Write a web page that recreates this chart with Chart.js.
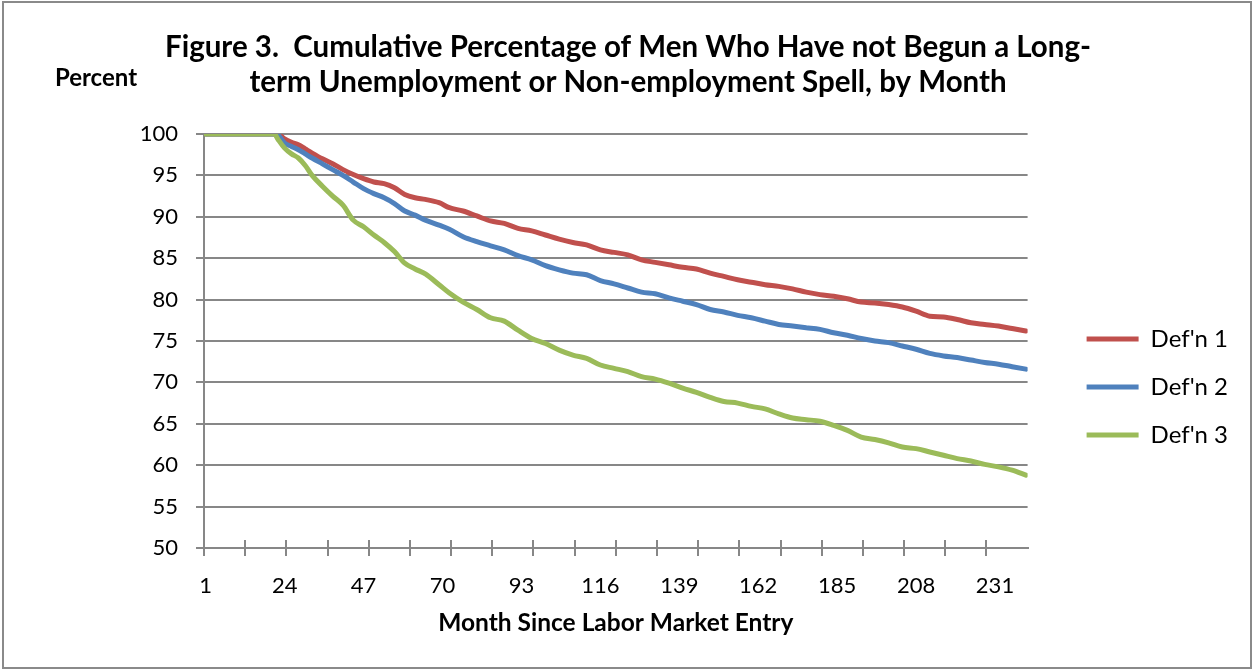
<!DOCTYPE html>
<html>
<head>
<meta charset="utf-8">
<script src="https://cdn.jsdelivr.net/npm/chart.js@4.4.1/dist/chart.umd.min.js"></script>
<style>
  body { margin: 0; background: #fff; }
  #frame { position: absolute; left: 2px; top: 1px; width: 1250px; height: 668px; box-sizing: border-box; border: 2px solid #8a8a8a; pointer-events: none; }
  #chart { position: absolute; left: 0; top: 0; }
</style>
</head>
<body>
<canvas id="chart" width="1254" height="672"></canvas>
<div id="frame"></div>
<script>
// months (x positions of the samples)
const months = [1, 12, 21, 22, 24, 26, 28, 30, 32, 35, 38, 41, 44, 47, 50, 53, 56, 59, 62, 65, 69, 72,
  76, 80, 84, 88, 92, 96, 100, 104, 108, 112, 116, 120, 124, 128, 132, 136, 140, 144, 148, 152, 156, 160,
  164, 168, 172, 176, 180, 184, 188, 192, 196, 200, 204, 208, 212, 216, 220, 224, 228, 232, 236, 240];

const defn1 = [100, 100, 100, 100, 99.4, 99.0, 98.7, 98.2, 97.7, 97.0, 96.4, 95.7, 95.1, 94.6, 94.2, 94.0, 93.5, 92.7, 92.3, 92.1, 91.7, 91.1,
  90.7, 90.1, 89.5, 89.2, 88.6, 88.3, 87.8, 87.3, 86.9, 86.6, 86.0, 85.7, 85.4, 84.8, 84.5, 84.2, 83.9, 83.7, 83.2, 82.8, 82.4, 82.1,
  81.8, 81.6, 81.3, 80.9, 80.6, 80.4, 80.1, 79.7, 79.6, 79.4, 79.1, 78.6, 78.0, 77.9, 77.6, 77.2, 77.0, 76.8, 76.5, 76.2];

const defn2 = [100, 100, 100, 99.9, 98.9, 98.5, 98.1, 97.6, 97.1, 96.4, 95.7, 95.0, 94.2, 93.4, 92.8, 92.3, 91.6, 90.7, 90.2, 89.6, 89.0, 88.5,
  87.6, 87.0, 86.5, 86.0, 85.3, 84.8, 84.1, 83.6, 83.2, 83.0, 82.3, 81.9, 81.4, 80.9, 80.7, 80.2, 79.8, 79.4, 78.8, 78.5, 78.1, 77.8,
  77.4, 77.0, 76.8, 76.6, 76.4, 76.0, 75.7, 75.3, 75.0, 74.8, 74.4, 74.0, 73.5, 73.2, 73.0, 72.7, 72.4, 72.2, 71.9, 71.6];

const defn3 = [100, 100, 100, 99.4, 98.3, 97.6, 97.1, 96.2, 95.0, 93.7, 92.5, 91.4, 89.6, 88.8, 87.8, 86.9, 85.8, 84.4, 83.7, 83.1, 81.8, 80.8,
  79.7, 78.8, 77.8, 77.4, 76.3, 75.3, 74.7, 73.9, 73.3, 72.9, 72.1, 71.7, 71.3, 70.7, 70.4, 69.9, 69.3, 68.8, 68.2, 67.7, 67.5, 67.1,
  66.8, 66.2, 65.7, 65.5, 65.3, 64.8, 64.2, 63.4, 63.1, 62.7, 62.2, 62.0, 61.6, 61.2, 60.8, 60.5, 60.1, 59.8, 59.4, 58.8];

const seriesNames = ["Def'n 1", "Def'n 2", "Def'n 3"];
const seriesColors = ['#C0504D', '#4F81BD', '#9BBB59'];

// axis labels every 23 months, tick marks every 12 months (between categories)
const monthLabels = [1, 24, 47, 70, 93, 116, 139, 162, 185, 208, 231];
const tickMarks = [0.5, 12.5, 24.5, 36.5, 48.5, 60.5, 72.5, 84.5, 96.5, 108.5, 120.5, 132.5, 144.5, 156.5, 168.5, 180.5, 192.5, 204.5, 216.5, 228.5];
const yTicks = [50, 55, 60, 65, 70, 75, 80, 85, 90, 95, 100];

const titleLines = ['Figure 3.  Cumulative Percentage of Men Who Have not Begun a Long-',
  'term Unemployment or Non-employment Spell, by Month'];

const gridGrey = '#878787';
const font = 'Lato';

const toPoints = vals => months.map((m, i) => ({ x: m, y: vals[i] }));

// "Percent" sits at the top left, like the Excel axis label
const percentLabel = {
  id: 'percentLabel',
  afterDraw(chart) {
    const ctx = chart.ctx;
    ctx.save();
    ctx.font = 'bold 24px ' + font;
    ctx.fillStyle = '#000';
    ctx.textAlign = 'center';
    ctx.textBaseline = 'middle';
    ctx.fillText('Percent', 96, 78);
    ctx.restore();
  }
};

const ctx = document.getElementById('chart');
new Chart(ctx, {
  type: 'line',
  data: {
    datasets: [defn1, defn2, defn3].map((vals, i) => ({
      label: seriesNames[i],
      data: toPoints(vals),
      borderColor: seriesColors[i],
      backgroundColor: seriesColors[i],
      borderWidth: 5,
      pointRadius: 0,
      borderCapStyle: 'round',
      borderJoinStyle: 'round',
      cubicInterpolationMode: 'monotone',
      order: 3 - i
    }))
  },
  options: {
    responsive: false,
    animation: false,
    layout: { padding: { left: 18, right: 16, top: 0, bottom: 0 } },
    plugins: {
      title: {
        display: true,
        text: titleLines,
        color: '#000',
        font: { family: font, size: 29.5, weight: 'bold', lineHeight: '35px' },
        padding: { top: 29.5, bottom: 34.5 }
      },
      legend: {
        position: 'right',
        title: { display: true, text: '', font: { size: 10, lineHeight: 1 }, padding: { top: 92, bottom: 0 } },
        labels: {
          usePointStyle: true,
          pointStyle: 'line',
          pointStyleWidth: 52,
          padding: 24,
          color: '#000',
          font: { family: font, size: 24 },
          sort: (a, b) => a.datasetIndex - b.datasetIndex
        }
      },
      tooltip: { enabled: false }
    },
    scales: {
      x: {
        type: 'linear',
        min: 0.5,
        max: 240.5,
        afterBuildTicks: s => { s.ticks = tickMarks.map(v => ({ value: v })); },
        afterFit: s => { s.height = 8; },
        grid: { drawOnChartArea: false, color: gridGrey, lineWidth: 2, tickLength: 8 },
        border: { color: gridGrey, width: 2 },
        ticks: { display: false }
      },
      xUp: {
        type: 'linear',
        axis: 'x',
        position: { y: 50 },
        min: 0.5,
        max: 240.5,
        afterBuildTicks: s => { s.ticks = tickMarks.map(v => ({ value: v })); },
        afterFit: s => { s.height = 0; },
        grid: { drawOnChartArea: false, color: gridGrey, lineWidth: 2, tickLength: -8 },
        border: { display: false },
        ticks: { display: false }
      },
      xLabels: {
        type: 'linear',
        axis: 'x',
        position: 'bottom',
        min: 0.5,
        max: 240.5,
        afterBuildTicks: s => { s.ticks = monthLabels.map(v => ({ value: v })); },
        afterFit: s => { s.height = 116; },
        grid: { display: false },
        border: { display: false },
        ticks: { color: '#000', font: { family: font, size: 22 }, padding: 9, maxRotation: 0, autoSkip: false },
        title: {
          display: true,
          text: 'Month Since Labor Market Entry',
          color: '#000',
          font: { family: font, size: 24.5, weight: 'bold' },
          padding: { top: 0, bottom: 34 }
        }
      },
      y: {
        min: 50,
        max: 100,
        afterBuildTicks: s => { s.ticks = yTicks.map(v => ({ value: v })); },
        afterFit: s => { s.width = 186; },
        grid: { color: gridGrey, lineWidth: 2, tickLength: 8 },
        border: { color: gridGrey, width: 2 },
        ticks: { color: '#000', font: { family: font, size: 22 }, padding: 18 }
      },
      yGap: {
        position: 'right',
        axis: 'y',
        afterFit: s => { s.width = 35; },
        grid: { display: false },
        border: { display: false },
        ticks: { display: false }
      }
    }
  },
  plugins: [percentLabel]
});
</script>
</body>
</html>
